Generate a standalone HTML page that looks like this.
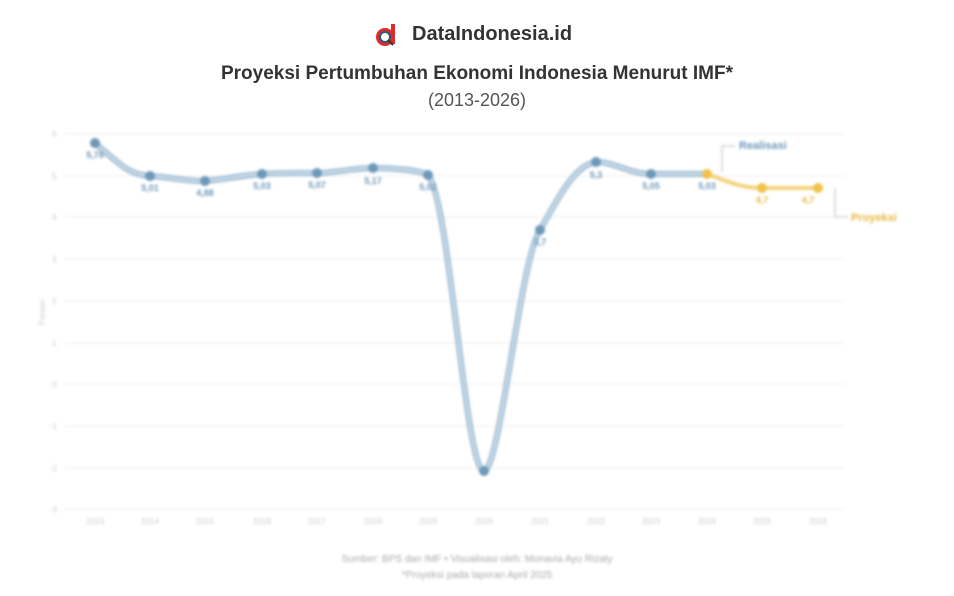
<!DOCTYPE html>
<html><head><meta charset="utf-8"><style>
body{margin:0;width:954px;height:596px;background:#fff;font-family:"Liberation Sans",sans-serif;overflow:hidden;position:relative}
.t{position:absolute;left:0;width:954px;text-align:center;color:#333}
</style></head><body>
<div style="position:absolute;left:374px;top:22px;width:24px;height:26px">
<svg width="24" height="26"><path d="M17 2h4v20h-4z" fill="#e02b2b"/><circle cx="11" cy="15" r="9" fill="#e02b2b"/><circle cx="11" cy="15" r="5" fill="#fff" stroke="#2a5a80" stroke-width="2"/><path d="M14 18l5 5" stroke="#333" stroke-width="2"/></svg></div>
<div style="position:absolute;left:412px;top:23px;font-size:20px;font-weight:bold;color:#333">DataIndonesia.id</div>
<div class="t" style="top:63px;font-size:19px;font-weight:bold">Proyeksi Pertumbuhan Ekonomi Indonesia Menurut IMF*</div>
<div class="t" style="top:90px;font-size:18px;color:#555">(2013-2026)</div>
<svg width="954" height="596" style="position:absolute;left:0;top:0;filter:blur(1.4px)" font-family="Liberation Sans" font-size="8">
<g stroke="#eee" stroke-width="1">
<line x1="65" x2="845" y1="134" y2="134"/><line x1="65" x2="845" y1="176" y2="176"/><line x1="65" x2="845" y1="217" y2="217"/><line x1="65" x2="845" y1="259" y2="259"/><line x1="65" x2="845" y1="301" y2="301"/><line x1="65" x2="845" y1="343" y2="343"/><line x1="65" x2="845" y1="384" y2="384"/><line x1="65" x2="845" y1="426" y2="426"/><line x1="65" x2="845" y1="468" y2="468"/><line x1="65" x2="845" y1="509" y2="509"/></g>
<g fill="#ccc" font-size="8"><text x="52" y="137">6</text><text x="52" y="179">5</text><text x="52" y="220">4</text><text x="52" y="262">3</text><text x="52" y="304">2</text><text x="52" y="346">1</text><text x="52" y="387">0</text><text x="50" y="429">-1</text><text x="50" y="471">-2</text><text x="50" y="512">-3</text>
<text x="30" y="340" transform="rotate(-90 30 325)">Persen</text>
<g text-anchor="middle"><text x="95" y="524">2013</text><text x="150" y="524">2014</text><text x="205" y="524">2015</text><text x="262" y="524">2016</text><text x="317" y="524">2017</text><text x="373" y="524">2018</text><text x="428" y="524">2019</text><text x="484" y="524">2020</text><text x="540" y="524">2021</text><text x="596" y="524">2022</text><text x="651" y="524">2023</text><text x="707" y="524">2024</text><text x="762" y="524">2025</text><text x="818" y="524">2026</text></g></g>
<path d="M95 143 C120 165,130 175,150 176 S190 182,205 181 S245 175,262 174 S300 173,317 173 S355 168,373 168 S420 170,428 175 C450 200,465 470,484 471 C500 470,520 260,540 230 C560 195,575 165,596 162 C615 162,630 174,651 174 L707 174" fill="none" stroke="#9dbbd2" stroke-width="6"/>
<path d="M95 143 C120 165,130 175,150 176 S190 182,205 181 S245 175,262 174 S300 173,317 173 S355 168,373 168 S420 170,428 175 C450 200,465 470,484 471 C500 470,520 260,540 230 C560 195,575 165,596 162 C615 162,630 174,651 174 L707 174" fill="none" stroke="#d6e4ee" stroke-width="2"/>
<path d="M707 174 C730 182,740 188,762 188 L818 188" fill="none" stroke="#f3d27a" stroke-width="4"/>
<g fill="#6e98b8"><circle cx="95" cy="143" r="5"/><circle cx="150" cy="176" r="5"/><circle cx="205" cy="181" r="5"/><circle cx="262" cy="174" r="5"/><circle cx="317" cy="173" r="5"/><circle cx="373" cy="168" r="5"/><circle cx="428" cy="175" r="5"/><circle cx="484" cy="471" r="5"/><circle cx="540" cy="230" r="5"/><circle cx="596" cy="162" r="5"/><circle cx="651" cy="174" r="5"/></g>
<g fill="#f0c24a"><circle cx="707" cy="174" r="5"/><circle cx="762" cy="188" r="5"/><circle cx="818" cy="188" r="5"/></g>
<g fill="#6e98b8" font-size="9" font-weight="bold" text-anchor="middle"><text x="95" y="158">5,78</text><text x="150" y="191">5,01</text><text x="205" y="196">4,88</text><text x="262" y="189">5,03</text><text x="317" y="188">5,07</text><text x="373" y="184">5,17</text><text x="428" y="190">5,02</text><text x="540" y="245">3,7</text><text x="596" y="178">5,3</text><text x="651" y="189">5,05</text><text x="707" y="189">5,03</text></g>
<g fill="#e8b840" font-size="9" font-weight="bold" text-anchor="middle"><text x="762" y="203">4,7</text><text x="808" y="203">4,7</text></g>
<path d="M722 172 V146 H735" fill="none" stroke="#ddd" stroke-width="2"/>
<path d="M835 188 V217 H848" fill="none" stroke="#ddd" stroke-width="2"/>
<text x="739" y="149" fill="#6e98b8" font-size="11" font-weight="bold">Realisasi</text>
<text x="851" y="221" fill="#e8b840" font-size="11" font-weight="bold">Proyeksi</text>
<g fill="#aaa" font-size="10" text-anchor="middle"><text x="477" y="562">Sumber: BPS dan IMF • Visualisasi oleh: Monavia Ayu Rizaty</text><text x="477" y="578">*Proyeksi pada laporan April 2025</text></g>
</svg>
</body></html>
